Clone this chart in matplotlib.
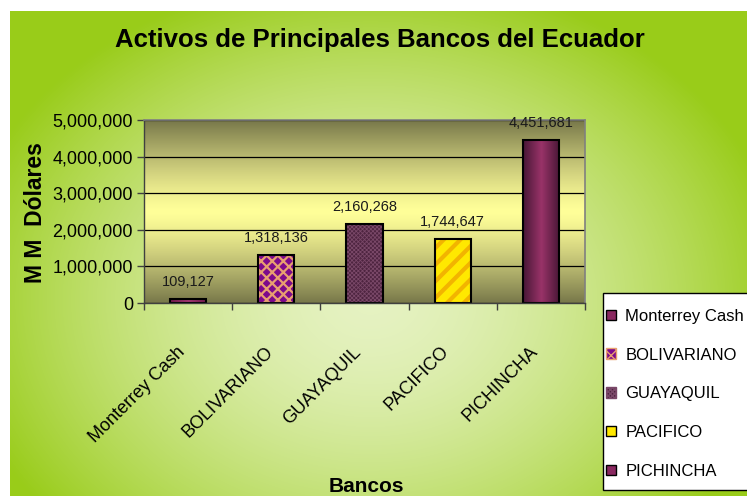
import matplotlib
matplotlib.use("Agg")
import matplotlib.pyplot as plt
import numpy as np
from matplotlib.patches import Patch, Rectangle
from matplotlib.ticker import FuncFormatter, MultipleLocator

# ---- data ----
bancos = ["Monterrey Cash", "BOLIVARIANO", "GUAYAQUIL", "PACIFICO", "PICHINCHA"]
activos = [109127, 1318136, 2160268, 1744647, 4451681]
y_max = 5000000
y_step = 1000000

plt.rcParams["font.family"] = ["Liberation Sans", "DejaVu Sans"]

W, H = 747, 496
fig = plt.figure(figsize=(W / 100, H / 100), dpi=100)

# ---- background: radial green gradient with white strip top/left ----
bg_ax = fig.add_axes([0, 0, 1, 1], zorder=-10)
yy, xx = np.mgrid[0:H, 0:W]
r = np.sqrt(((xx - 370) / 420.0) ** 2 + ((yy - 300) / 330.0) ** 2)
f = np.clip(r, 0, 1) ** 1.6
light = np.array([0.90, 0.95, 0.76])
green = np.array([0.60, 0.80, 0.10])
img = light[None, None, :] * (1 - f[..., None]) + green[None, None, :] * f[..., None]
img[:11, :, :] = 1.0
img[:, :10, :] = 1.0
bg_ax.imshow(img, aspect="auto", extent=[0, 1, 0, 1], interpolation="bilinear")
bg_ax.axis("off")

# ---- plot area ----
ax = fig.add_axes([144 / W, 1 - 303 / H, (585 - 144) / W, (303 - 120) / H])
x = np.arange(len(bancos))
ax.set_xlim(-0.5, len(bancos) - 0.5)
ax.set_ylim(0, y_max)

# vertical olive -> yellow -> olive gradient
t = np.linspace(0, 1, 256)
g = np.abs(t - 0.5) * 2
g = g ** 1.3
olive = np.array([0.47, 0.47, 0.29])
yellow = np.array([1.0, 1.0, 0.60])
grad = yellow[None, :] * (1 - g[:, None]) + olive[None, :] * g[:, None]
ax.imshow(grad[:, None, :], aspect="auto", extent=[-0.5, len(bancos) - 0.5, 0, y_max],
          origin="lower", zorder=0)

ax.yaxis.set_major_locator(MultipleLocator(y_step))
ax.grid(axis="y", color="black", linewidth=0.9, zorder=1)
ax.set_axisbelow(False)

bar_w = 0.41


def gradient_bar(xc, h, edge, center):
    b = ax.bar(xc, h, width=bar_w, color="none", edgecolor="black", linewidth=1.5, zorder=4)[0]
    s = np.linspace(0, 1, 64)
    k = 1 - np.abs(s - 0.5) * 2
    c0, c1 = np.array(edge), np.array(center)
    arr = c0[None, :] * (1 - k[:, None]) + c1[None, :] * k[:, None]
    im = ax.imshow(arr[None, :, :], aspect="auto",
                   extent=[xc - bar_w / 2, xc + bar_w / 2, 0, h], zorder=3)
    im.set_clip_path(b)
    return b


def hatched_bar(xc, h, face, hcolor, hatch, hlw):
    b = ax.bar(xc, h, width=bar_w, color=face, edgecolor=hcolor, hatch=hatch,
               linewidth=0, zorder=3)[0]
    if hasattr(b, "set_hatch_linewidth"):
        b.set_hatch_linewidth(hlw)
    ax.bar(xc, h, width=bar_w, color="none", edgecolor="black", linewidth=1.5, zorder=4)
    return b


gradient_bar(x[0], activos[0], (0.45, 0.10, 0.30), (0.65, 0.22, 0.45))
hatched_bar(x[1], activos[1], "#7d0a8c", "#e8a070", "xxx", 1.6)
hatched_bar(x[2], activos[2], "#4e2440", "#7a4868", "xxxxxxxx", 0.6)
hatched_bar(x[3], activos[3], "#ffe800", "#f2b400", "//", 3.0)
gradient_bar(x[4], activos[4], (0.28, 0.09, 0.21), (0.60, 0.20, 0.41))

# value labels
for xi, v in zip(x, activos):
    ax.annotate(f"{v:,}", (xi, v), xytext=(0, 7), textcoords="offset points",
                ha="center", va="bottom", fontsize=10.5, color="#1a1a1a", zorder=6)

# ---- axes styling ----
for side in ["top", "right"]:
    ax.spines[side].set_color("#808080")
    ax.spines[side].set_linewidth(1.2)
for side in ["left", "bottom"]:
    ax.spines[side].set_color("#404040")
    ax.spines[side].set_linewidth(1.0)
for sp in ax.spines.values():
    sp.set_zorder(5)

ax.yaxis.set_major_formatter(FuncFormatter(lambda v, p: f"{int(v):,}"))
ax.tick_params(axis="y", direction="out", length=5, width=1, labelsize=13, pad=3,
               colors="#404040", labelcolor="black")
ax.set_xticks(x)
ax.set_xticklabels(bancos, rotation=45, ha="right", rotation_mode="default")
ax.set_xticks(np.arange(len(bancos) + 1) - 0.5, minor=True)
ax.tick_params(axis="x", which="major", length=0, labelsize=13, pad=29)
ax.tick_params(axis="x", which="minor", direction="out", length=5, width=1, color="#404040")

# ---- titles ----
fig.text(380 / W, 1 - 40 / H, "Activos de Principales Bancos del Ecuador",
         ha="center", va="center", fontsize=18.5, fontweight="bold")
fig.text(35 / W, 1 - 213 / H, "M M  Dólares", rotation=90, ha="center", va="center",
         fontsize=16.5, fontweight="bold")
fig.text(366 / W, 1 - 486 / H, "Bancos", ha="center", va="center",
         fontsize=15, fontweight="bold")

# ---- legend box (runs off the right edge, as in the original) ----
fig.patches.append(Rectangle((603 / W, 1 - 490 / H), 160 / W, 197 / H,
                             transform=fig.transFigure, facecolor="white",
                             edgecolor="black", linewidth=1.0, zorder=1))
handles = [
    Patch(facecolor="#8a2860", edgecolor="black"),
    Patch(facecolor="#7d0a8c", edgecolor="#e8a070", hatch="xxx"),
    Patch(facecolor="#4e2440", edgecolor="#7a4868", hatch="xxxxxxxx"),
    Patch(facecolor="#ffe800", edgecolor="black"),
    Patch(facecolor="#8a2860", edgecolor="black"),
]
leg = fig.legend(handles, bancos, loc="upper left",
                 bbox_to_anchor=(606 / W, 1 - 309 / H), bbox_transform=fig.transFigure,
                 fontsize=12, handlelength=0.6, handleheight=0.6, handletextpad=0.55,
                 labelspacing=1.42, borderpad=0, borderaxespad=0, frameon=False)
leg.set_zorder(2)

fig.savefig("out.png", dpi=100)
